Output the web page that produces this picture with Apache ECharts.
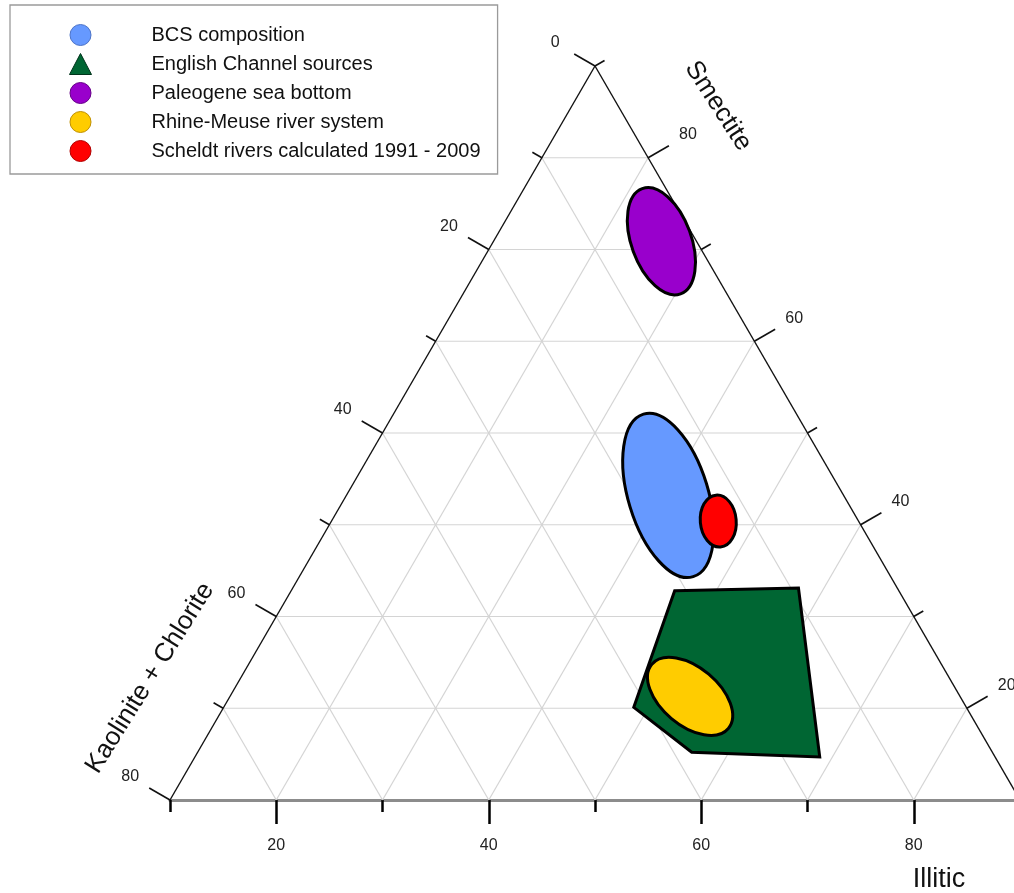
<!DOCTYPE html>
<html><head><meta charset="utf-8">
<script src="https://cdn.jsdelivr.net/npm/echarts@6/dist/echarts.min.js"></script>
<style>html,body{margin:0;padding:0;background:#fff}#c{width:1014px;height:893px}</style>
</head><body><div id="c"></div><script>
// ---------------- data ----------------
const FONT = '"Liberation Sans", Arial, sans-serif';
// bottom (Illitic) axis tick labels
const illiticCategories = ['10','20','30','40','50','60','70','80','90'];
// left edge (Kaolinite + Chlorite) ticks and labels
const kaoliniteTicks  = [0, 10, 20, 30, 40, 50, 60, 70, 80];
const kaoliniteLabels = ['0','', '20','', '40','', '60','', '80'];
// right edge (Smectite) ticks and labels
const smectiteTicks  = [90, 80, 70, 60, 50, 40, 30, 20, 10];
const smectiteLabels = ['', '80','', '60','', '40','', '20',''];
// grid line values
const smectiteGrid  = [20, 30, 40, 50, 60, 70, 80];
const illiticGrid   = [20, 30, 40, 50, 60, 70, 80];
const kaoliniteGrid = [10, 20, 30, 40, 50, 60, 70];

const seriesNames  = ['BCS composition','English Channel sources','Paleogene sea bottom','Rhine-Meuse river system','Scheldt rivers calculated 1991 - 2009'];
const seriesColors = ['#6699FF','#006633','#9900CC','#FFCC00','#FF0000'];
const legendBorders = ['#4d74c8','#00331a','#660088','#c09000','#b00000'];
const legendIcons  = ['circle','triangle','circle','circle','circle'];

// compositions as [Illitic, Kaolinite+Chlorite, Smectite]
const bcsCentre       = [40.3, 16.5, 43.2];
const paleogeneCentre = [25.8,  3.3, 70.9];
const rhineCentre     = [53.3, 25.4, 21.3];
const scheldtCentre   = [46.4, 13.2, 40.4];
// ellipse extents: [semi-axis 1, semi-axis 2 (composition units), angle of axis 1 (deg)]
const bcsAxes       = [8.0, 3.76, 107];
const paleogeneAxes = [5.27, 2.82, 110];
const rhineAxes     = [4.7, 2.73, 140];
const scheldtAxes   = [2.45, 1.69, 95];
// English Channel sources field (polygon vertices)
const englishChannel = [
  [46.1, 21.1, 32.8],
  [57.6,  9.3, 33.1],
  [68.8, 16.5, 14.7],
  [56.5, 28.3, 15.2],
  [48.6, 31.3, 20.1]
];

// ------------- ternary -> cartesian (x = Illitic on bottom edge scale, y = Smectite) -------------
function toXY(p) { return [p[0] + (p[2] - 10) / 2, p[2]]; }
function leftEdge(k) { return toXY([10, k, 90 - k]); }          // Illitic = 10
function rightEdge(s) { return toXY([100 - s, 0, s]); }         // Kaolinite = 0

// grid segments
const gridSegs = [];
smectiteGrid.forEach(s => { const a = toXY([10, 90 - s, s]), b = toXY([100 - s, 0, s]); gridSegs.push([a[0], a[1], b[0], b[1]]); });
illiticGrid.forEach(i => { const a = toXY([i, 90 - i, 10]), b = toXY([i, 0, 100 - i]); gridSegs.push([a[0], a[1], b[0], b[1]]); });
kaoliniteGrid.forEach(k => { const a = toXY([10, k, 90 - k]), b = toXY([90 - k, k, 10]); gridSegs.push([a[0], a[1], b[0], b[1]]); });

// frame edges
const apex = toXY([10, 0, 90]);
const frameSegs = [
  [...toXY([10, 80, 10]), ...apex],
  [...apex, ...toXY([90, 0, 10])]
];

// edge ticks
const tickData = [], tickMeta = [];
kaoliniteTicks.forEach((k, i) => { tickData.push(leftEdge(k)); tickMeta.push({ side: -1, label: kaoliniteLabels[i] }); });
smectiteTicks.forEach((s, i) => { tickData.push(rightEdge(s)); tickMeta.push({ side: 1, label: smectiteLabels[i] }); });

function segSeries(name, segs, color, width, z) {
  return {
    type: 'custom', name: name, coordinateSystem: 'cartesian2d', z: z, silent: true,
    data: segs,
    renderItem: function (params, api) {
      const p1 = api.coord([api.value(0), api.value(1)]);
      const p2 = api.coord([api.value(2), api.value(3)]);
      return { type: 'line', shape: { x1: p1[0], y1: p1[1], x2: p2[0], y2: p2[1] }, style: { stroke: color, lineWidth: width } };
    }
  };
}

function ellipseSeries(idx, centre, axes) {
  return {
    type: 'custom', name: seriesNames[idx], coordinateSystem: 'cartesian2d', z: 5,
    itemStyle: { color: seriesColors[idx] },
    data: [toXY(centre)],
    renderItem: function (params, api) {
      const c = api.coord([api.value(0), api.value(1)]);
      const rx = api.size([axes[0], 0])[0];
      const ry = api.size([axes[1], 0])[0];
      return {
        type: 'ellipse', x: c[0], y: c[1], rotation: axes[2] * Math.PI / 180,
        shape: { cx: 0, cy: 0, rx: rx, ry: ry },
        style: { fill: seriesColors[idx], stroke: '#000', lineWidth: 3 }
      };
    }
  };
}

function polygonSeries(idx, verts) {
  return {
    type: 'custom', name: seriesNames[idx], coordinateSystem: 'cartesian2d', z: 5,
    itemStyle: { color: seriesColors[idx] },
    data: verts.map(toXY),
    renderItem: function (params, api) {
      if (params.dataIndexInside !== 0) return null;
      const pts = [];
      for (let j = 0; j < params.dataInsideLength; j++) pts.push(api.coord([api.value(0, j), api.value(1, j)]));
      return { type: 'polygon', shape: { points: pts }, style: { fill: seriesColors[idx], stroke: '#000', lineWidth: 3, lineJoin: 'miter' } };
    }
  };
}

const chart = echarts.init(document.getElementById('c'), null, { renderer: 'canvas' });
const option = {
  animation: false,
  backgroundColor: '#fff',
  grid: { left: 170, top: 66, width: 850, height: 734, outerBoundsMode: 'none', containLabel: false },
  xAxis: [
    { type: 'value', min: 10, max: 90, show: false },
    {
      type: 'category', data: illiticCategories, boundaryGap: false, position: 'bottom',
      axisLine: { show: true, lineStyle: { color: '#8c8c8c', width: 3 } },
      axisTick: { show: true, length: 12, interval: 0, lineStyle: { color: '#000', width: 2.5 } },
      axisLabel: { show: false }, splitLine: { show: false }
    },
    {
      type: 'category', data: illiticCategories, boundaryGap: false, position: 'bottom',
      axisLine: { show: false },
      axisTick: { show: true, length: 24, interval: function (i) { return i % 2 === 1; }, lineStyle: { color: '#000', width: 2.5 } },
      axisLabel: { show: true, interval: function (i) { return i % 2 === 1; }, margin: 38, fontSize: 16, fontFamily: FONT, color: '#222' },
      splitLine: { show: false }
    }
  ],
  yAxis: [{ type: 'value', min: 10, max: 90, show: false }],
  legend: {
    orient: 'vertical', left: 10, top: 5, padding: [19, 17, 12, 59],
    itemWidth: 22, itemHeight: 21, itemGap: 7,
    backgroundColor: '#fff', borderColor: '#9a9a9a', borderWidth: 1.3, borderRadius: 0,
    selectedMode: false,
    textStyle: { fontSize: 20, lineHeight: 20, fontFamily: FONT, color: '#111', padding: [0, 0, 0, 55] },
    data: seriesNames.map((n, i) => ({ name: n, icon: legendIcons[i], itemStyle: { color: seriesColors[i], borderColor: legendBorders[i], borderWidth: 1 } }))
  },
  graphic: [
    { type: 'text', x: 939, y: 880, style: { text: 'Illitic', fontSize: 27, fontFamily: FONT, fill: '#111', align: 'center', verticalAlign: 'middle' } },
    { type: 'text', x: 718, y: 106, rotation: -57 * Math.PI / 180, style: { text: 'Smectite', fontSize: 26, fontFamily: FONT, fill: '#111', align: 'center', verticalAlign: 'middle' } },
    { type: 'text', x: 150, y: 678, rotation: 58 * Math.PI / 180, style: { text: 'Kaolinite + Chlorite', fontSize: 26, fontFamily: FONT, fill: '#111', align: 'center', verticalAlign: 'middle' } }
  ],
  series: [
    segSeries('grid', gridSegs, '#d4d4d4', 1.2, 1),
    segSeries('frame', frameSegs, '#111', 1.4, 2),
    ellipseSeries(0, bcsCentre, bcsAxes),
    polygonSeries(1, englishChannel),
    ellipseSeries(2, paleogeneCentre, paleogeneAxes),
    ellipseSeries(3, rhineCentre, rhineAxes),
    ellipseSeries(4, scheldtCentre, scheldtAxes),
    {
      type: 'custom', name: 'edgeTicks', coordinateSystem: 'cartesian2d', z: 6, silent: true,
      data: tickData,
      renderItem: function (params, api) {
        const m = tickMeta[params.dataIndex];
        const p = api.coord([api.value(0), api.value(1)]);
        const dx = m.side * 0.866, dy = -0.5;
        const len = m.label ? 24 : 11;
        const children = [{ type: 'line', shape: { x1: p[0], y1: p[1], x2: p[0] + dx * len, y2: p[1] + dy * len }, style: { stroke: '#111', lineWidth: 1.6 } }];
        if (m.label) children.push({ type: 'text', x: p[0] + dx * 46, y: p[1] + dy * 46, style: { text: m.label, fontSize: 16, fontFamily: FONT, fill: '#222', align: 'center', verticalAlign: 'middle' } });
        return { type: 'group', children: children };
      }
    }
  ]
};
chart.setOption(option);
</script></body></html>
